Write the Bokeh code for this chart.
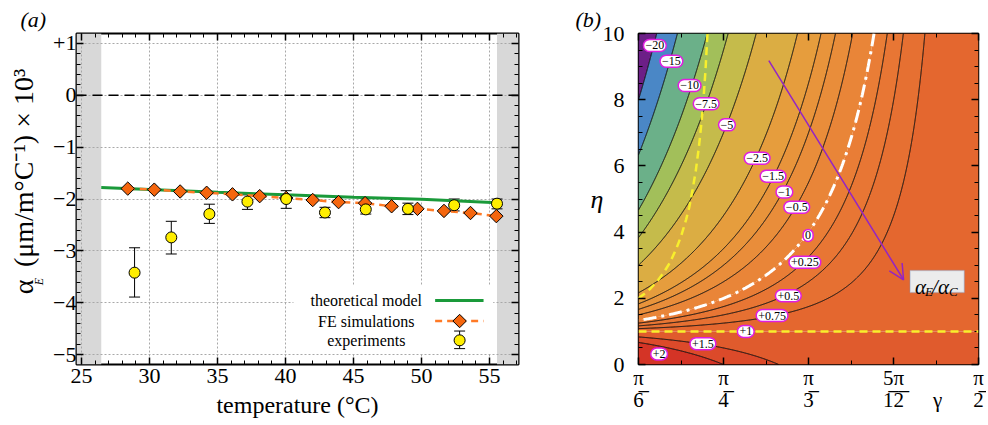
import math
import numpy as np
from bokeh.plotting import figure
from bokeh.models import (Range1d, FixedTicker, LinearAxis, Span, Label, BoxAnnotation, Title,
                          Whisker, TeeHead, ColumnDataSource, Arrow, OpenHead)
from bokeh.layouts import row
from bokeh.embed import file_html
from bokeh.resources import INLINE

SERIF = "Liberation Serif"
NB = "\u00a0"

# ---------------- panel (a): values ----------------
temp_ticks = [25, 30, 35, 40, 45, 50, 55]
alpha_ticks = [-5, -4, -3, -2, -1, 0, 1]
alpha_tick_labels = ["−5", "−4", "−3", "−2", "−1", "0", "+1"]
shade_left = [24.63, 26.45]
shade_right = [55.55, 57.13]

model_T = [26.45, 30.0, 35.0, 40.0, 45.0, 50.0, 52.0, 55.55]
model_a = [-1.78, -1.815, -1.87, -1.92, -1.965, -2.005, -2.03, -2.07]

fe_T = [28.4, 30.35, 32.25, 34.2, 36.1, 38.1, 40.05, 42.0, 43.9, 45.85, 47.8, 49.7, 51.65, 53.6, 55.5]
fe_a = [-1.80, -1.82, -1.855, -1.88, -1.91, -1.945, -1.98, -2.02, -2.06, -2.08, -2.14, -2.19, -2.23, -2.27, -2.33]

exp_T = [28.9, 31.6, 34.4, 37.2, 40.05, 42.9, 45.9, 49.0, 52.4, 55.55]
exp_a = [-3.42, -2.74, -2.29, -2.05, -2.00, -2.26, -2.20, -2.19, -2.12, -2.09]
exp_hi = [-2.94, -2.43, -2.10, -1.92, -1.84, -2.16, -2.08, -2.08, -2.00, -2.00]
exp_lo = [-3.89, -3.06, -2.47, -2.20, -2.18, -2.36, -2.29, -2.30, -2.23, -2.19]

legend_labels = ["theoretical model", "FE simulations", "experiments"]

# ---------------- panel (b) ----------------
gamma_tick_mult = [1 / 6, 1 / 4, 1 / 3, 5 / 12, 1 / 2]      # multiples of pi
gamma_tick_num = ["π", "π", "π", "5π", "π"]
gamma_tick_den = ["6", "4", "3", "12", "2"]
eta_ticks = [0, 2, 4, 6, 8, 10]

band_levels = [-30, -20, -15, -10, -7.5, -5, -2.5, -1.5, -1, -0.5, 0, 0.25, 0.5, 0.75, 1, 1.5, 2, 5]
band_colors = ["#6c1f87", "#4a87c6", "#6bb089", "#a2bf5a", "#c5bb4b", "#dbad43",
               "#e69d3d", "#e8943b", "#e98d3a", "#e98538", "#e97d36", "#e87634",
               "#e67032", "#e4672f", "#e05b2d", "#dc4a2a", "#d43426"]
line_levels = [-20, -15, -10, -7.5, -5, -2.5, -1.5, -1, -0.5, 0.25, 0.5, 0.75, 1.5, 2]

clabel_text = ["−20", "−15", "−10", "−7.5", "−5", "−2.5", "−1.5", "−1", "−0.5", "0",
               "+0.25", "+0.5", "+0.75", "+1", "+1.5", "+2"]
clabel_gamma = [0.574, 0.625, 0.681, 0.732, 0.796, 0.889, 0.938, 0.973, 1.011, 1.046,
                1.036, 0.985, 0.935, 0.854, 0.722, 0.587]
clabel_eta = [9.64, 9.16, 8.43, 7.88, 7.24, 6.23, 5.69, 5.21, 4.75, 3.90,
              3.09, 2.08, 1.48, 1.00, 0.63, 0.32]

curve_gamma = [0.5236, 0.54, 0.56, 0.58, 0.60, 0.62, 0.64, 0.655, 0.67, 0.68, 0.69, 0.70, 0.71, 0.718, 0.725, 0.73, 0.736]
curve_eta = [2.00, 2.12, 2.29, 2.50, 2.76, 3.07, 3.50, 3.88, 4.37, 4.75, 5.27, 5.85, 6.60, 7.35, 8.20, 8.90, 10.0]

arrow_gamma = [0.925, 1.34]
arrow_eta = [9.18, 2.56]


def ratio_field(g, e):
    # alpha_E / alpha_C surface matching the plotted contours
    return 1.0 + (1.0 - e) / np.tan(g) ** 2


def frame_axis(ax, size="22px", standoff=4):
    ax.major_tick_in = 7
    ax.major_tick_out = 0
    ax.minor_tick_in = 4
    ax.minor_tick_out = 0
    ax.major_tick_line_color = "black"
    ax.minor_tick_line_color = "black"
    ax.major_tick_line_width = 1.5
    ax.minor_tick_line_width = 1
    ax.axis_line_color = None
    ax.major_label_text_font = SERIF
    ax.major_label_text_color = "black"
    ax.major_label_text_font_size = size
    ax.major_label_standoff = standoff


def tick_only_axes(fig, side, major, minor, first=None):
    """Mirrored inward ticks without labels: minor (short) and major (long)."""
    specs = [(minor, 4, 1.0), (major, 7, 1.5)]
    for i, (locs, length, lw) in enumerate(specs):
        use_first = (i == 0 and first is not None)
        ax = first if use_first else LinearAxis()
        ax.ticker = FixedTicker(ticks=[], minor_ticks=list(locs))
        ax.major_tick_in = 0
        ax.major_tick_out = 0
        ax.minor_tick_in = length
        ax.minor_tick_out = 0
        ax.minor_tick_line_color = "black"
        ax.minor_tick_line_width = lw
        ax.axis_line_color = None
        ax.major_label_standoff = 0
        if not use_first:
            fig.add_layout(ax, side)


TOP, FRAME_H, BOTTOM = 33, 331, 60

# =============================== panel (a) ===============================
pa = figure(frame_width=442, frame_height=FRAME_H, min_border_left=76, min_border_right=20,
            min_border_top=TOP, min_border_bottom=BOTTOM,
            x_range=Range1d(24.63, 57.13), y_range=Range1d(-5.19, 1.19),
            toolbar_location=None, output_backend="svg")
pa.outline_line_color = "black"
pa.outline_line_width = 2
pa.background_fill_color = "white"
pa.border_fill_color = "white"

minor_T = list(range(25, 58))
minor_a = [round(-5.2 + 0.2 * i, 1) for i in range(33)]
tx = FixedTicker(ticks=temp_ticks, minor_ticks=minor_T)
ty = FixedTicker(ticks=alpha_ticks, minor_ticks=minor_a)
pa.xaxis.ticker = tx
pa.yaxis.ticker = ty
for ax in pa.xaxis:
    frame_axis(ax, size="22px", standoff=4)
    ax.axis_label = "temperature (°C)"
    ax.axis_label_text_font = SERIF
    ax.axis_label_text_font_style = "normal"
    ax.axis_label_text_font_size = "24px"
    ax.axis_label_text_color = "black"
    ax.axis_label_standoff = 6
for ax in pa.yaxis:
    frame_axis(ax, size="22px", standoff=0)
    ax.major_label_overrides = dict(zip(alpha_ticks, alpha_tick_labels))

# y-axis title: subscript E as a rotated label, main text as the axis title
E_pos = -3.52
ax_title = LinearAxis(ticker=FixedTicker(ticks=[E_pos], minor_ticks=[]))
ax_title.major_tick_in = 0
ax_title.major_tick_out = 0
ax_title.axis_line_color = None
ax_title.major_label_overrides = {E_pos: "E"}
ax_title.major_label_orientation = math.pi / 2
ax_title.major_label_text_font = SERIF
ax_title.major_label_text_font_style = "italic"
ax_title.major_label_text_font_size = "12px"
ax_title.major_label_text_color = "black"
ax_title.major_label_standoff = 11
ax_title.axis_label = NB * 5 + "α" + NB + "\u2009" + "(μm/m°C⁻¹)" + NB + "×" + NB + "10³"
ax_title.axis_label_text_font = SERIF
ax_title.axis_label_text_font_style = "normal"
ax_title.axis_label_text_font_size = "28px"
ax_title.axis_label_text_color = "black"
ax_title.axis_label_standoff = -16
pa.add_layout(ax_title, "left")

tick_only_axes(pa, "above", temp_ticks, minor_T)
tick_only_axes(pa, "right", alpha_ticks, minor_a)
pa.add_layout(Title(text="(a)", align="left", offset=-56, standoff=0, vertical_align="top",
                    text_font=SERIF, text_font_style="italic", text_font_size="22px",
                    text_color="black"), "above")

for g in (pa.xgrid, pa.ygrid):
    g.grid_line_color = "#a8a8a8"
    g.grid_line_dash = "2 2"
    g.grid_line_width = 1
pa.xgrid.ticker = tx
pa.ygrid.ticker = ty

# shaded bands at both ends
pa.quad(left=[shade_left[0], shade_right[0]], right=[shade_left[1], shade_right[1]],
        bottom=-5.19, top=1.19, fill_color="#d8d8d8", line_color=None, level="underlay")

src_exp = ColumnDataSource(dict(T=exp_T, a=exp_a, hi=exp_hi, lo=exp_lo))
pa.add_layout(Whisker(base="T", upper="hi", lower="lo", source=src_exp, level="underlay",
                      line_color="black", line_width=1,
                      upper_head=TeeHead(size=11, line_color="black", line_width=1),
                      lower_head=TeeHead(size=11, line_color="black", line_width=1)))

pa.add_layout(Span(location=0, dimension="width", line_color="black", line_width=1.5,
                   line_dash="10 6"))

# legend background
pa.add_layout(BoxAnnotation(left=40.58, right=55.27, top=-3.665, bottom=-4.974,
                            fill_color="white", fill_alpha=1, line_color=None, level="underlay"))

GREEN = "#1a9a3a"
ORANGE_L = "#ff7a26"
ORANGE_F = "#f5660e"
YELLOW = "#ffee00"

pa.line(model_T, model_a, line_color=GREEN, line_width=3)
pa.line(fe_T, fe_a, line_color=ORANGE_L, line_width=2.5, line_dash="7 5")
pa.scatter(fe_T, fe_a, marker="square", angle=np.pi / 4, size=9.5,
           fill_color=ORANGE_F, line_color="black", line_width=1)
pa.scatter(exp_T, exp_a, marker="circle", size=11,
           fill_color=YELLOW, line_color="black", line_width=1)

# manual legend (text left, symbol right)
leg_y = [-3.954, -4.352, -4.724]
for txt, yy in zip(legend_labels, leg_y):
    pa.add_layout(Label(x=45.94, y=yy, text=txt, text_font=SERIF, text_font_size="16px",
                        text_align="center", text_baseline="middle", text_color="black"))
pa.line([51.0, 54.56], [leg_y[0]] * 2, line_color=GREEN, line_width=3)
pa.line([51.0, 54.56], [leg_y[1]] * 2, line_color=ORANGE_L, line_width=2.5, line_dash="7 5")
pa.scatter([52.8], [leg_y[1]], marker="square", angle=np.pi / 4, size=9.5,
           fill_color=ORANGE_F, line_color="black", line_width=1)
src_leg = ColumnDataSource(dict(T=[52.8], hi=[-4.545], lo=[-4.884]))
pa.add_layout(Whisker(base="T", upper="hi", lower="lo", source=src_leg, level="underlay",
                      line_color="black", line_width=1,
                      upper_head=TeeHead(size=11, line_color="black", line_width=1),
                      lower_head=TeeHead(size=11, line_color="black", line_width=1)))
pa.scatter([52.8], [leg_y[2]], marker="circle", size=11,
           fill_color=YELLOW, line_color="black", line_width=1)

# =============================== panel (b) ===============================
g0, g1 = math.pi / 6, math.pi / 2
pb = figure(frame_width=340, frame_height=FRAME_H, min_border_left=100, min_border_right=8,
            min_border_top=TOP, min_border_bottom=BOTTOM,
            x_range=Range1d(g0, g1), y_range=Range1d(0, 10),
            toolbar_location=None, output_backend="svg")
pb.outline_line_color = "black"
pb.outline_line_width = 1.5
pb.xgrid.visible = False
pb.ygrid.visible = False
pb.border_fill_color = "white"

gam = np.linspace(g0, g1, 341)
eta = np.linspace(0.0, 10.0, 601)
G, E = np.meshgrid(gam, eta)
Z = ratio_field(G, E)

pb.contour(G, E, Z, levels=band_levels, fill_color=band_colors, line_color=None)
pb.contour(G, E, Z, levels=line_levels, line_color="black", line_width=1)
zero = pb.contour(G, E, Z, levels=[0.0], line_color="white", line_width=3)
zero.line_renderer.glyph.line_dash = [13, 5, 3, 5]

YEL = "#f8ef2c"
pb.line(curve_gamma, curve_eta, line_color=YEL, line_width=2.5, line_dash="8 5")
pb.add_layout(Span(location=1.0, dimension="width", line_color=YEL, line_width=2.5,
                   line_dash="8 5"))

gx = [m * math.pi for m in gamma_tick_mult]
gminor = [(k / 24) * math.pi for k in range(4, 13)]
eta_minor = [0.5 * k for k in range(21)]

# bottom: short + long inward ticks, then a label-only axis with stacked fractions
tick_only_axes(pb, "below", gx, gminor, first=pb.xaxis[0])
gamma_pos = 1.445
lab_ax = LinearAxis(ticker=FixedTicker(ticks=gx + [gamma_pos], minor_ticks=[]))
lab_ax.major_tick_in = 0
lab_ax.major_tick_out = 0
lab_ax.axis_line_color = None
over = {}
for xx, num, den in zip(gx, gamma_tick_num, gamma_tick_den):
    over[xx] = num + "\n" + "".join(ch + "\u0305" for ch in den)
over[gamma_pos] = NB + "\n" + "γ"
lab_ax.major_label_overrides = over
lab_ax.major_label_text_font = SERIF
lab_ax.major_label_text_font_size = "21px"
lab_ax.major_label_text_color = "black"
lab_ax.major_label_text_line_height = 0.95
lab_ax.major_label_standoff = 1
pb.add_layout(lab_ax, "below")

tgy = FixedTicker(ticks=eta_ticks, minor_ticks=eta_minor)
pb.yaxis.ticker = tgy
for ax in pb.yaxis:
    frame_axis(ax, size="22px", standoff=14)
    ax.axis_label = "η"
    ax.axis_label_orientation = "horizontal"
    ax.axis_label_text_font = SERIF
    ax.axis_label_text_font_style = "italic"
    ax.axis_label_text_font_size = "26px"
    ax.axis_label_text_color = "black"
    ax.axis_label_standoff = -4
tick_only_axes(pb, "above", gx, gminor)
tick_only_axes(pb, "right", eta_ticks, eta_minor)
pb.add_layout(Title(text="(b)", align="left", offset=-63, standoff=0, vertical_align="top",
                    text_font=SERIF, text_font_style="italic", text_font_size="22px",
                    text_color="black"), "above")

PURPLE = "#9424c4"
pb.add_layout(Arrow(end=OpenHead(size=15, line_color=PURPLE, line_width=1.5),
                    x_start=arrow_gamma[0], y_start=arrow_eta[0],
                    x_end=arrow_gamma[1], y_end=arrow_eta[1],
                    line_color=PURPLE, line_width=1.5))

for txt, gg, ee in zip(clabel_text, clabel_gamma, clabel_eta):
    pb.add_layout(Label(x=gg, y=ee, text=txt, text_font=SERIF, text_font_size="12px",
                        text_align="center", text_baseline="middle", text_color="black",
                        background_fill_color="white", border_line_color="#e01ee0",
                        border_line_width=1.5, padding=2, border_radius=6))

# alpha_E / alpha_C box
pb.add_layout(BoxAnnotation(left=1.36, right=1.527, top=2.84, bottom=2.175,
                            fill_color="#ececec", fill_alpha=1,
                            line_color="#6fa0dc", line_width=1.5))
for txt, dx, dy, fs in [("α", 0, 0, "21px"), ("E", 10, -4, "13px"), ("/", 17, 0, "21px"),
                        ("α", 23, 0, "21px"), ("C", 34, -4, "13px")]:
    pb.add_layout(Label(x=1.375, y=2.33, x_offset=dx, y_offset=dy, text=txt,
                        text_font=SERIF, text_font_style="italic", text_font_size=fs,
                        text_align="left", text_baseline="alphabetic", text_color="black"))

layout = row(pa, pb)
open("out.html", "w").write(file_html(layout, INLINE))
